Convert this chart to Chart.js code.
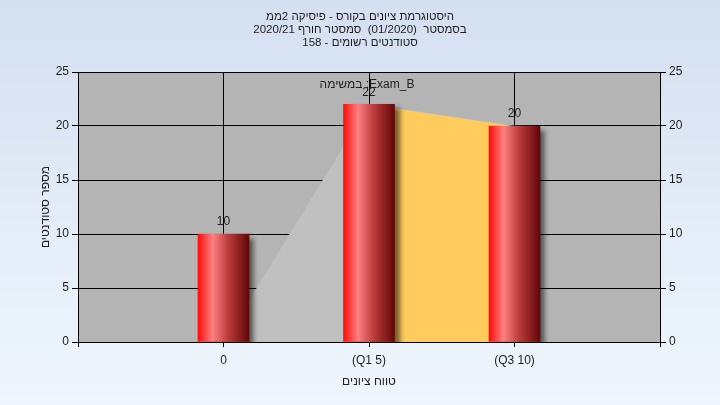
<!DOCTYPE html>
<html>
<head>
<meta charset="utf-8">
<script src="https://cdn.jsdelivr.net/npm/chart.js@4.4.1/dist/chart.umd.min.js"></script>
<style>
  html, body { margin: 0; padding: 0; }
  #wrap { width: 720px; height: 405px; }
</style>
</head>
<body>
<div id="wrap"><canvas id="chart" width="720" height="405"></canvas></div>
<script>
// --- נתונים ---
const categories = ['', '0', '(Q1 5)', '(Q3 10)', ''];
const studentCounts = [null, 10, 22, 20, null];
const areaValues = [null, 0, 22, 20, null];
const areaColors = ['#c0c0c0', '#ffcb5c'];
const yTicks = [0, 5, 10, 15, 20, 25];
const titleLines = [
    'היסטוגרמת ציונים בקורס - פיסיקה 2ממ',
    'בסמסטר  (01/2020)  סמסטר חורף 2020/21',
    'סטודנטים רשומים - 158'
];
const areaLabel = 'במשימה :Exam_B';

const FONT = "'Liberation Sans', Arial, sans-serif";
const TEXT = '#1e1e1e';

// רקע + אזור השרטוט
const bgPlugin = {
    id: 'bg',
    beforeDraw(chart) {
        const { ctx, chartArea: a } = chart;
        const g = ctx.createLinearGradient(0, 0, 0, chart.height);
        g.addColorStop(0, '#d4dff0');
        g.addColorStop(1, '#eff6fd');
        ctx.save();
        ctx.fillStyle = g;
        ctx.fillRect(0, 0, chart.width, chart.height);
        ctx.fillStyle = '#b4b4b4';
        ctx.fillRect(a.left, a.top, a.right - a.left, a.bottom - a.top);
        ctx.restore();
    }
};

// צל לעמודות
const shadowPlugin = {
    id: 'shadow',
    beforeDatasetDraw(chart, args) {
        if (chart.data.datasets[args.index].type !== 'bar') return;
        const ctx = chart.ctx;
        ctx.save();
        ctx.shadowColor = 'rgba(0,0,0,0.55)';
        ctx.shadowOffsetX = 5;
        ctx.shadowOffsetY = 4;
        ctx.shadowBlur = 5;
    },
    afterDatasetDraw(chart, args) {
        if (chart.data.datasets[args.index].type !== 'bar') return;
        chart.ctx.restore();
    }
};

// כותרת, תוויות ערכים
const textPlugin = {
    id: 'texts',
    afterDatasetsDraw(chart) {
        const ctx = chart.ctx;
        ctx.save();
        ctx.direction = 'ltr';
        ctx.fillStyle = TEXT;
        ctx.textAlign = 'center';
        ctx.textBaseline = 'middle';
        ctx.font = '11.5px ' + FONT;
        titleLines.forEach((t, i) => ctx.fillText(t, 360, 17 + i * 13));

        ctx.font = '12px ' + FONT;
        const barMeta = chart.getDatasetMeta(0);
        barMeta.data.forEach((bar, i) => {
            if (studentCounts[i] == null) return;
            ctx.fillText(String(studentCounts[i]), bar.x, bar.y - 12);
        });

        const lineMeta = chart.getDatasetMeta(1);
        const peak = lineMeta.data[2];
        ctx.fillText(areaLabel, peak.x - 2, peak.y - 20);
        ctx.restore();
    }
};

function barGradient(context) {
    const chart = context.chart;
    if (!chart.chartArea) return '#d01010';
    const cx = chart.scales.x.getPixelForValue(context.dataIndex);
    const g = chart.ctx.createLinearGradient(cx - 25, 0, cx + 25, 0);
    g.addColorStop(0, '#ff1010');
    g.addColorStop(0.28, '#ff8080');
    g.addColorStop(0.6, '#b83a3a');
    g.addColorStop(1, '#650808');
    return g;
}

new Chart(document.getElementById('chart'), {
    data: {
        labels: categories,
        datasets: [
            {
                type: 'bar',
                data: studentCounts,
                backgroundColor: barGradient,
                borderWidth: 0,
                barThickness: 51,
                order: 0
            },
            {
                type: 'line',
                data: areaValues,
                borderWidth: 0,
                pointRadius: 0,
                fill: 'origin',
                backgroundColor: areaColors[0],
                segment: {
                    backgroundColor: ctx => areaColors[Math.min(ctx.p0DataIndex - 1, 1)]
                },
                order: 1
            }
        ]
    },
    options: {
        responsive: false,
        animation: false,
        layout: { padding: { top: 72, left: 0, right: 0, bottom: 0 } },
        plugins: { legend: { display: false }, tooltip: { enabled: false } },
        scales: {
            x: {
                offset: false,
                afterFit: s => { s.height = 63; },
                grid: { offset: false, color: '#000', lineWidth: 1, tickLength: 5, tickColor: '#000' },
                border: { color: '#000' },
                ticks: { color: TEXT, font: { family: FONT, size: 12 }, padding: 6, maxRotation: 0, autoSkip: false },
                title: { display: true, text: 'טווח ציונים', color: TEXT, font: { family: FONT, size: 12 }, padding: { bottom: 16 } }
            },
            y: {
                position: 'left',
                min: 0, max: 25,
                afterFit: s => { s.width = 78; },
                afterBuildTicks: s => { s.ticks = yTicks.map(v => ({ value: v })); },
                grid: { color: '#000', lineWidth: 1, tickLength: 6, tickColor: '#000' },
                border: { color: '#000' },
                ticks: { color: TEXT, font: { family: FONT, size: 12 }, padding: 3 },
                title: { display: true, text: 'מספר סטודנטים', color: TEXT, font: { family: FONT, size: 12 }, padding: { top: 38 } }
            },
            y2: {
                position: 'right',
                min: 0, max: 25,
                afterFit: s => { s.width = 60; },
                afterBuildTicks: s => { s.ticks = yTicks.map(v => ({ value: v })); },
                grid: { drawOnChartArea: false, color: '#000', tickLength: 6, tickColor: '#000' },
                border: { color: '#000' },
                ticks: { color: TEXT, font: { family: FONT, size: 12 }, padding: 3 }
            }
        }
    },
    plugins: [bgPlugin, shadowPlugin, textPlugin]
});
</script>
</body>
</html>
